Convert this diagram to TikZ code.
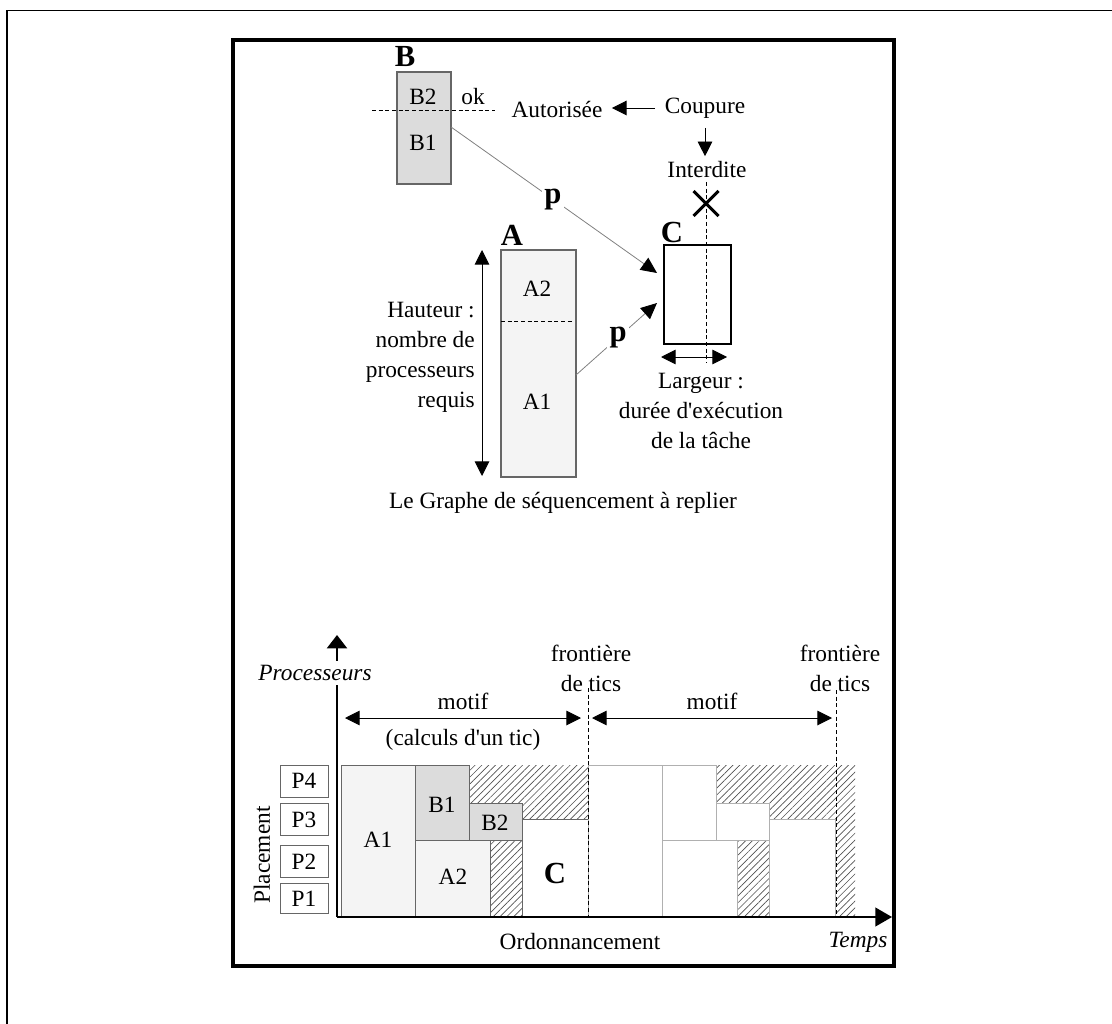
\documentclass[tikz,border=0pt]{standalone}
\usepackage{fontspec}
\setmainfont{Liberation Serif}[Ligatures=TeXOff]
\usetikzlibrary{arrows.meta,patterns.meta}
\definecolor{bfill}{HTML}{DCDCDC}
\definecolor{afill}{HTML}{F4F4F4}
\definecolor{edgegray}{HTML}{666666}
\definecolor{lightedge}{HTML}{B0B0B0}
\definecolor{hatchgray}{HTML}{505050}
\definecolor{conngray}{HTML}{808080}
\begin{document}
\begin{tikzpicture}[x=0.75pt,y=-0.75pt,
  font=\fontsize{17.5}{22.5}\selectfont,
  every node/.style={inner sep=0pt},
  bigbold/.style={font=\fontsize{23}{24}\selectfont\bfseries},
  headtip/.style={-{Triangle[length=11pt,width=11pt]}},
  bothtips/.style={{Triangle[length=11pt,width=11pt]}-{Triangle[length=11pt,width=11pt]}},
  thinline/.style={line width=0.7pt},
  conn/.style={draw=conngray,line width=0.6pt,-{Triangle[length=12pt,width=11pt,color=black]}},
  dashline/.style={dash pattern=on 3pt off 2pt,line width=0.6pt},
  hatchfill/.style={pattern={Lines[angle=45,distance=3.6pt,line width=0.5pt]},pattern color=hatchgray},
  firstblk/.style={draw=edgegray,line width=0.7pt},
  secondblk/.style={draw=lightedge,line width=0.7pt,fill=white},
  pbox/.style={draw=edgegray,line width=0.7pt,minimum width=36pt},
  axis/.style={line width=1.6pt}
]
\useasboundingbox (0,0) rectangle (1112,1023);
% outer frames
\draw[line width=1pt] (7,1040) -- (7,10.5) -- (1130,10.5);
\draw[line width=2.6pt] (233,40) rectangle (894,966);

% ---------- top graph ----------
\node[bigbold] (Blab) at (405,57) {B};
\draw[draw=edgegray,fill=bfill,line width=0.8pt] (397,72) rectangle (451,184);
\node (B2) at (423,97) {B2};
\node (B1) at (423,143) {B1};
\node (ok) at (473,97) {ok};
\draw[dashline] (372,110) -- (495,110);

\node[inner sep=7pt] (aut) at (557,110) {Autorisée};
\node[inner sep=7pt] (coup) at (705,108) {Coupure};
\node[inner sep=4pt] (int) at (707,170) {Interdite};
\draw[thinline,headtip] (coup.west) -- (coup.west -| aut.east);
\draw[thinline,headtip] (coup.south) -- (coup.south |- int.north);

\coordinate (xc) at (706,203.5);
\draw[line width=2.3pt] ([shift={(-12.5,-12.5)}]xc) -- ([shift={(12.5,12.5)}]xc)
                        ([shift={(-12.5,12.5)}]xc) -- ([shift={(12.5,-12.5)}]xc);

% A
\node[bigbold] (Alab) at (512,235) {A};
\draw[draw=edgegray,fill=afill,line width=0.8pt] (501,250) rectangle (576,477);
\draw[dashline] (501,321) -- (573,321);
\node (A2) at (537,289) {A2};
\node (A1) at (537,402) {A1};
\draw[thinline,bothtips] (482,250) -- (482,476);
\node[align=right,anchor=east] (haut) at (475,357) {Hauteur :\\nombre de\\processeurs\\requis};

% C
\node[bigbold] (Clab) at (672,232) {C};
\draw[line width=0.8pt] (664,245) rectangle (731,344);
\draw[dashline] (706,182) -- (706,363);
\draw[thinline,bothtips] (661,357) -- (727,357);
\node[align=center] (larg) at (701,411) {Largeur :\\durée d'exécution\\de la tâche};

% connectors
\coordinate (bout) at (451,127);
\coordinate (cin1) at (657,273);
\coordinate (aout) at (576,375);
\coordinate (cin2) at (657,303);
\draw[conn] (bout) -- node[bigbold,fill=white,inner sep=2pt,pos=0.495] (p1) {p} (cin1);
\draw[conn] (aout) -- node[bigbold,fill=white,inner sep=2pt,pos=0.52] (p2) {p} (cin2);

\node (cap) at (563,503) {Le Graphe de séquencement à replier};

% ---------- bottom schedule ----------
% hatches
\fill[hatchfill] (469,765) -- (588,765) -- (588,819) -- (522,819) -- (522,803) -- (469,803) -- cycle;
\fill[hatchfill] (716,765) -- (855,765) -- (855,917) -- (835,917) -- (835,819) -- (769,819) -- (769,803) -- (716,803) -- cycle;
\fill[hatchfill] (490,840) rectangle (522,917);
\fill[hatchfill] (737,840) rectangle (769,917);
% first period
\draw[firstblk,fill=afill] (341,765) rectangle (415,917);
\draw[firstblk,fill=bfill] (415,765) rectangle (469,840);
\draw[firstblk,fill=bfill] (469,803) rectangle (522,840);
\draw[firstblk,fill=afill] (415,840) rectangle (490,917);
\draw[firstblk,fill=white] (522,819) rectangle (588,917);
\node (gA1) at (378,840) {A1};
\node (gB1) at (442,805) {B1};
\node (gB2) at (495,823) {B2};
\node (gA2) at (453,877) {A2};
\node[bigbold] (gC) at (555,873) {C};
% second period
\draw[secondblk] (588,765) rectangle (662,917);
\draw[secondblk] (662,765) rectangle (716,840);
\draw[secondblk] (716,803) rectangle (769,840);
\draw[secondblk] (662,840) rectangle (737,917);
\draw[secondblk] (769,819) rectangle (835,917);

% tick borders
\draw[dashline] (588,688) -- (588,917);
\draw[dashline] (836,690) -- (836,917);
\node[align=center] (fr1) at (591,668) {frontière\\de tics};
\node[align=center] (fr2) at (840,668) {frontière\\de tics};

% motif arrows
\node (m1) at (463,701) {motif};
\node (calc) at (463,740) {(calculs d'un tic)};
\draw[thinline,bothtips] (345,718) -- (581,718);
\node (m2) at (712,701) {motif};
\draw[thinline,bothtips] (592,718) -- (832,718);

% axes
\coordinate (O) at (337,917);
\coordinate (ytop) at (337,635);
\coordinate (xend) at (892,917);
\draw[axis,-{Triangle[length=10pt,width=15pt]}] (O) -- (ytop);
\draw[axis,-{Triangle[length=12.5pt,width=14pt]}] (O) -- (xend);
\node[fill=white,inner sep=3pt,font=\fontsize{17.5}{22.5}\selectfont\itshape] (proc) at (315,673) {Processeurs};

% processors
\node[pbox,minimum height=24pt] (P4) at (304,781) {P4};
\node[pbox,minimum height=24.5pt] (P3) at (304,819.5) {P3};
\node[pbox,minimum height=24.5pt] (P2) at (304,861.5) {P2};
\node[pbox,minimum height=22pt] (P1) at (304,898.5) {P1};
\node[rotate=90] (plac) at (262,855) {Placement};

\node (ord) at (580,942) {Ordonnancement};
\node[font=\fontsize{17.5}{22.5}\selectfont\itshape] (temps) at (858,942) {Temps};
\end{tikzpicture}
\end{document}
